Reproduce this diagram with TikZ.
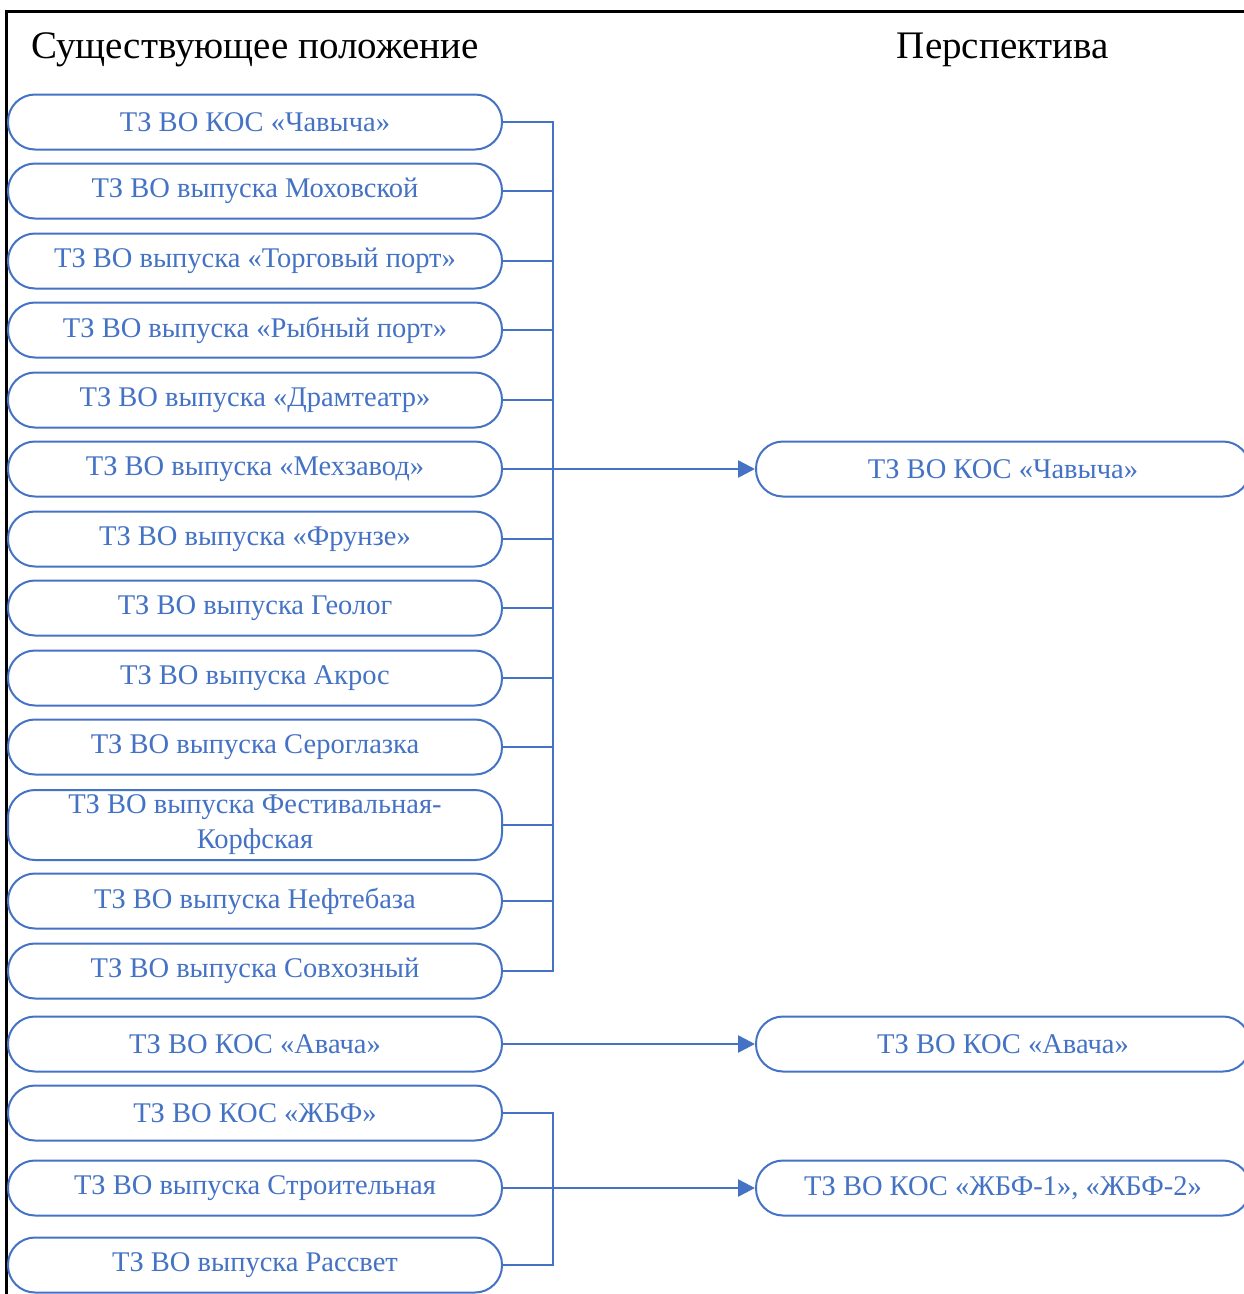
\documentclass[tikz,border=0pt]{standalone}
\usepackage{fontspec}
\setmainfont{Liberation Serif}
\usetikzlibrary{arrows.meta}
\definecolor{bl}{HTML}{4472C4}
\begin{document}
\begin{tikzpicture}[x=1pt,y=-1pt,
  box/.style={draw=bl, line width=2pt, rounded corners=27pt, minimum width=494pt, minimum height=55pt, text=bl, font=\fontsize{28.5}{35}\selectfont, align=center, inner sep=0pt},
  conn/.style={draw=bl, line width=2.5pt},
  arr/.style={conn, -{Triangle[length=17pt,width=17pt]}},
  ttl/.style={font=\fontsize{39}{44}\selectfont, anchor=base, inner sep=0pt},
  frame/.style={draw=black, line width=3pt}]
\useasboundingbox (0,0) rectangle (1244,1294);
\clip (0,0) rectangle (1244,1294);
\fill[white] (0,0) rectangle (1244,1294);
\draw[frame] (6,1310) -- (6,11) -- (1260,11);
\node[ttl] (t1) at (255,58) {Существующее положение};
\node[ttl] (t2) at (1003,58) {Перспектива};
% left column
\node[box] (a1) at (255,122) {ТЗ ВО КОС «Чавыча»};
\node[box] (a2) at (255,191) {ТЗ ВО выпуска Моховской};
\node[box] (a3) at (255,261) {ТЗ ВО выпуска «Торговый порт»};
\node[box] (a4) at (255,330) {ТЗ ВО выпуска «Рыбный порт»};
\node[box] (a5) at (255,400) {ТЗ ВО выпуска «Драмтеатр»};
\node[box] (a6) at (255,469) {ТЗ ВО выпуска «Мехзавод»};
\node[box] (a7) at (255,539) {ТЗ ВО выпуска «Фрунзе»};
\node[box] (a8) at (255,608) {ТЗ ВО выпуска Геолог};
\node[box] (a9) at (255,678) {ТЗ ВО выпуска Акрос};
\node[box] (a10) at (255,747) {ТЗ ВО выпуска Сероглазка};
\node[box, minimum height=70pt] (a11) at (255,825) {ТЗ ВО выпуска Фестивальная-\\Корфская};
\node[box] (a12) at (255,901) {ТЗ ВО выпуска Нефтебаза};
\node[box] (a13) at (255,971) {ТЗ ВО выпуска Совхозный};
\node[box] (a14) at (255,1044) {ТЗ ВО КОС «Авача»};
\node[box] (a15) at (255,1113) {ТЗ ВО КОС «ЖБФ»};
\node[box] (a16) at (255,1188) {ТЗ ВО выпуска Строительная};
\node[box] (a17) at (255,1265) {ТЗ ВО выпуска Рассвет};
% right column
\node[box] (b1) at (1003,469) {ТЗ ВО КОС «Чавыча»};
\node[box] (b2) at (1003,1044) {ТЗ ВО КОС «Авача»};
\node[box] (b3) at (1003,1188) {ТЗ ВО КОС «ЖБФ-1», «ЖБФ-2»};
% bus 1
\coordinate (j1) at (553,469);
\draw[conn] (a1.east) -- (a1.east -| j1) -- (a13.east -| j1) -- (a13.east);
\foreach \n in {2,...,12} \draw[conn] (a\n.east) -- (a\n.east -| j1);
\draw[arr] (j1) -- (b1.west);
% Avacha
\draw[arr] (a14.east) -- (b2.west);
% bus 2
\coordinate (j2) at (553,1188);
\draw[conn] (a15.east) -- (a15.east -| j2) -- (a17.east -| j2) -- (a17.east);
\draw[conn] (a16.east) -- (j2);
\draw[arr] (j2) -- (b3.west);
\end{tikzpicture}
\end{document}
